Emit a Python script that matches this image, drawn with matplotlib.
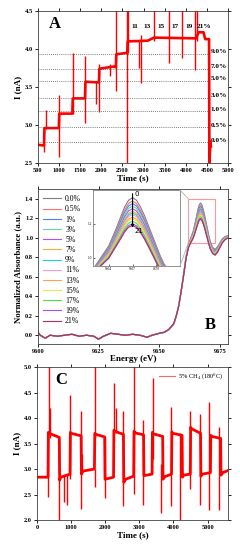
import numpy as np
import matplotlib
matplotlib.use('Agg')
import matplotlib.pyplot as plt
from matplotlib.patches import Rectangle, ConnectionPatch

plt.rcParams['font.family'] = ['Liberation Serif', 'DejaVu Serif']
plt.rcParams['mathtext.fontset'] = 'stix'

# ---------------- panel A : current steps vs O2 concentration ----------------
a_time = [500, 645, 655, 995, 1005, 1315, 1325, 1615, 1625, 1945, 1955, 2300, 2345, 2355,
          2615, 2625, 3100, 3250, 4250, 4300, 4420, 4460, 4552, 4560, 4580, 4595]
a_curr = [2.74, 2.73, 2.96, 2.96, 3.15, 3.15, 3.35, 3.35, 3.57, 3.56, 3.74, 3.77, 3.76, 3.93,
          3.95, 4.10, 4.11, 4.15, 4.14, 4.22, 4.22, 4.13, 4.13, 2.45, 2.78, 2.72]
a_spike_t = [640, 680, 1000, 1320, 1620, 1880, 1950, 2200, 2350, 2600, 2625, 2900, 2950,
             3250, 3600, 3900, 4220, 4270]
a_spike_lo = [2.64, 2.95, 2.58, 3.15, 3.02, 3.28, 3.17, 3.65, 3.45, 2.40, 3.95, 3.75, 3.55,
              4.10, 3.82, 3.88, 3.72, 4.10]
a_spike_hi = [2.76, 3.20, 3.40, 3.95, 3.91, 3.57, 3.80, 3.80, 4.60, 4.60, 4.60, 4.10, 4.18,
              4.60, 4.60, 4.60, 4.60, 4.60]
a_ref_lvl = [3.94, 3.74, 3.58, 3.36, 3.18, 2.97, 2.77]
a_ref_lab = ['9.0%', '7.0%', '5.0%', '3.0%', '1.0%', '0.5%', '0.0%']
a_top_t = [2805, 3080, 3412, 3750, 4075, 4420]
a_top_lab = ['11', '13', '15', '17', '19', '21%']

# ---------------- panel B : XANES spectra ----------------
b_conc = ['0.0%', '0.5%', '1%', '3%', '5%', '7%', '9%', '11%', '13%', '15%', '17%', '19%', '21%']
b_colors = ['#7f7f7f', '#ff6f6f', '#4d7fff', '#66d9a0', '#b34dff', '#f2b233', '#1fd1d1',
            '#ff99cc', '#ff9f5a', '#e6e64d', '#4de04d', '#a64dff', '#b3305a']
e_pre = [9600, 9601, 9603, 9605, 9608, 9611, 9614, 9617, 9620, 9623, 9625, 9627, 9630, 9633,
         9636, 9639, 9642, 9645, 9647, 9650, 9652, 9654, 9656, 9657, 9658, 9659]
mu_pre = [0.03, 0.00, -0.03, 0.00, -0.01, 0.00, 0.01, -0.01, 0.00, -0.01, -0.04, -0.01, 0.02,
          0.01, 0.00, 0.01, 0.00, -0.02, 0.00, 0.02, 0.03, 0.06, 0.12, 0.20, 0.30, 0.45]
e_peak = [9660, 9661, 9662, 9663, 9664, 9665, 9665.5, 9666, 9666.5, 9667, 9667.5, 9668,
          9668.5, 9669, 9669.5, 9670, 9670.5, 9671, 9672, 9673, 9674, 9675, 9676, 9677, 9678]
mu_peak = [
    [0.620, 0.800, 0.930, 1.000, 1.070, 1.180, 1.240, 1.300, 1.340, 1.355, 1.340, 1.300, 1.250, 1.190, 1.130, 1.070, 1.010, 0.960, 0.900, 0.880, 0.910, 0.950, 0.990, 1.010, 1.020],
    [0.619, 0.798, 0.926, 0.994, 1.061, 1.167, 1.224, 1.282, 1.321, 1.335, 1.320, 1.282, 1.233, 1.175, 1.116, 1.058, 1.000, 0.951, 0.892, 0.873, 0.903, 0.944, 0.985, 1.006, 1.017],
    [0.618, 0.797, 0.923, 0.990, 1.054, 1.157, 1.213, 1.269, 1.306, 1.320, 1.306, 1.268, 1.220, 1.163, 1.106, 1.049, 0.992, 0.944, 0.887, 0.867, 0.898, 0.940, 0.981, 1.003, 1.015],
    [0.618, 0.795, 0.920, 0.985, 1.048, 1.148, 1.201, 1.255, 1.292, 1.305, 1.291, 1.254, 1.208, 1.152, 1.096, 1.040, 0.984, 0.937, 0.881, 0.862, 0.893, 0.935, 0.978, 1.000, 1.013],
    [0.617, 0.794, 0.917, 0.981, 1.041, 1.138, 1.189, 1.242, 1.277, 1.290, 1.276, 1.240, 1.195, 1.141, 1.086, 1.031, 0.976, 0.930, 0.875, 0.857, 0.887, 0.931, 0.974, 0.997, 1.010],
    [0.616, 0.792, 0.914, 0.976, 1.034, 1.128, 1.178, 1.228, 1.262, 1.275, 1.262, 1.226, 1.182, 1.129, 1.076, 1.022, 0.968, 0.923, 0.870, 0.851, 0.882, 0.926, 0.970, 0.994, 1.008],
    [0.616, 0.791, 0.912, 0.973, 1.030, 1.122, 1.170, 1.219, 1.253, 1.265, 1.252, 1.217, 1.174, 1.122, 1.069, 1.016, 0.963, 0.919, 0.866, 0.848, 0.879, 0.923, 0.968, 0.992, 1.007],
    [0.615, 0.790, 0.910, 0.970, 1.025, 1.115, 1.162, 1.210, 1.243, 1.255, 1.242, 1.208, 1.165, 1.114, 1.062, 1.010, 0.958, 0.914, 0.862, 0.844, 0.875, 0.920, 0.965, 0.990, 1.005],
    [0.614, 0.789, 0.907, 0.966, 1.018, 1.105, 1.150, 1.197, 1.228, 1.240, 1.227, 1.194, 1.152, 1.103, 1.052, 1.001, 0.950, 0.907, 0.856, 0.839, 0.870, 0.916, 0.961, 0.987, 1.003],
    [0.614, 0.788, 0.905, 0.963, 1.014, 1.099, 1.143, 1.188, 1.219, 1.230, 1.218, 1.185, 1.144, 1.095, 1.045, 0.995, 0.945, 0.903, 0.853, 0.835, 0.866, 0.913, 0.959, 0.985, 1.001],
    [0.613, 0.786, 0.902, 0.958, 1.007, 1.089, 1.131, 1.174, 1.204, 1.215, 1.203, 1.171, 1.131, 1.084, 1.035, 0.986, 0.937, 0.896, 0.847, 0.830, 0.861, 0.908, 0.955, 0.982, 0.999],
    [0.612, 0.785, 0.899, 0.954, 1.000, 1.079, 1.119, 1.161, 1.190, 1.200, 1.188, 1.157, 1.118, 1.072, 1.025, 0.977, 0.929, 0.889, 0.841, 0.824, 0.856, 0.903, 0.951, 0.979, 0.997],
    [0.612, 0.783, 0.897, 0.951, 0.996, 1.073, 1.111, 1.152, 1.180, 1.190, 1.178, 1.148, 1.110, 1.065, 1.018, 0.971, 0.924, 0.884, 0.837, 0.821, 0.852, 0.901, 0.949, 0.977, 0.995],
]

# ---------------- panel C : repeated 5% CH4 pulses ----------------
c_time = [0, 325, 335, 360, 655, 665, 700, 970, 980, 1000, 1295, 1305, 1350, 1685, 1695, 1720,
          1985, 1995, 2245, 2255, 2280, 2535, 2545, 2600, 2835, 2845, 2870, 3125, 3135, 3375,
          3385, 3410, 3685, 3695, 3750, 3945, 3955, 3980, 4255, 4265, 4300, 4495, 4505, 4530,
          4795, 4805, 4850, 5085, 5095, 5120, 5385, 5395, 5450, 5600]
c_curr = [2.84, 2.84, 3.72, 3.70, 3.62, 2.78, 2.84, 2.90, 3.72, 3.70, 3.65, 2.90, 2.96, 3.00,
          3.70, 3.68, 3.63, 2.80, 2.84, 3.76, 3.74, 3.68, 2.74, 2.80, 2.86, 3.74, 3.71, 3.67,
          2.87, 2.90, 3.72, 3.69, 3.64, 2.80, 2.85, 2.90, 3.73, 3.70, 3.66, 2.84, 2.88, 2.90,
          3.82, 3.79, 3.70, 2.86, 2.90, 2.93, 3.66, 3.64, 3.60, 2.88, 2.93, 2.97]
c_spike_t = [330, 345, 380, 660, 800, 870, 980, 1290, 1300, 1330, 1696, 1700, 1990, 2250, 2330,
             2530, 2840, 2845, 3100, 3390, 3650, 3930, 4200, 4500, 4770, 5030, 5330]
c_spike_lo = [2.45, 3.70, 3.60, 2.00, 2.35, 2.30, 2.80, 3.60, 2.22, 2.95, 3.60, 2.65, 2.43, 3.70,
              3.70, 2.27, 3.70, 2.52, 2.30, 3.20, 2.13, 2.28, 2.00, 2.60, 2.30, 2.20, 2.20]
c_spike_hi = [3.70, 5.10, 4.20, 3.60, 2.88, 2.90, 4.45, 4.13, 3.60, 3.30, 5.10, 3.00, 3.60, 4.69,
              4.20, 4.13, 5.10, 3.70, 3.96, 4.78, 3.10, 4.21, 3.70, 4.14, 4.08, 4.31, 3.83]

red = '#ff0000'
fw = 'bold'


def style_axes(ax, fs=4.6):
    ax.tick_params(direction='out', length=2, width=0.6, labelsize=fs, pad=1.5,
                   top=True, right=True)
    for lab in ax.get_xticklabels() + ax.get_yticklabels():
        lab.set_fontweight(fw)
    for s in ax.spines.values():
        s.set_linewidth(0.6)
        s.set_color('#404040')


fig = plt.figure(figsize=(2.4, 5.5), dpi=100)

# ---- A ----
axA = fig.add_axes([0.158, 0.7036, 0.792, 0.2764])
axA.plot(a_time, a_curr, color=red, lw=1.9)
axA.vlines(a_spike_t, a_spike_lo, a_spike_hi, colors=red, lw=1.0)
for lvl, lab in zip(a_ref_lvl, a_ref_lab):
    axA.plot([500, 4540], [lvl, lvl], ls=(0, (1, 1.5)), color='#555555', lw=0.6)
    axA.text(4590, lvl + 0.03, lab, fontsize=5.2, fontweight=fw, va='center', ha='left')
for t, lab in zip(a_top_t, a_top_lab):
    axA.text(t, 4.30, lab, fontsize=5.2, fontweight=fw, ha='center', va='center')
axA.text(900, 4.33, 'A', fontsize=12, fontweight=fw, ha='center', va='center')
axA.set_xlim(500, 5000)
axA.set_ylim(2.5, 4.5)
axA.set_xticks(np.arange(500, 5001, 500))
axA.set_yticks([2.5, 3.0, 3.5, 4.0, 4.5])
axA.set_xlabel('Time (s)', fontsize=6.5, fontweight=fw, labelpad=1)
axA.set_ylabel('I (nA)', fontsize=6.5, fontweight=fw, labelpad=2)
style_axes(axA)

# ---- B ----
axB = fig.add_axes([0.158, 0.3745, 0.792, 0.2819])
for k in range(len(b_conc)):
    axB.plot(e_pre + e_peak, mu_pre + mu_peak[k], color=b_colors[k], lw=0.8, label=b_conc[k])
axB.set_xlim(9600, 9678.3)
axB.set_ylim(-0.09, 1.5)
axB.set_xticks([9600, 9625, 9650, 9675])
axB.set_yticks(np.arange(0, 1.41, 0.2))
axB.set_xlabel('Energy (eV)', fontsize=6.5, fontweight=fw, labelpad=1)
axB.set_ylabel('Normalized Absorbance (a.u.)', fontsize=6.3, fontweight=fw, labelpad=2)
axB.legend(loc='upper left', fontsize=5.6, frameon=False, handlelength=2.4,
           labelspacing=0.28, handletextpad=0.5, borderaxespad=0.2,
           bbox_to_anchor=(0.0, 0.99))
axB.text(9671, 0.1, 'B', fontsize=12, fontweight=fw, ha='center', va='center')
axB.add_patch(Rectangle((9662, 0.95), 11, 0.45, fill=False, ec='#ff9999', lw=0.8))
style_axes(axB)

axI = fig.add_axes([0.3875, 0.5164, 0.3625, 0.138])
for k in range(len(b_conc)):
    axI.plot(e_peak, mu_peak[k], color=b_colors[k], lw=0.8)
axI.set_xlim(9662, 9673)
axI.set_ylim(0.95, 1.40)
axI.set_xticks([9664, 9667, 9670])
axI.set_yticks([1.0, 1.2])
axI.tick_params(direction='in', length=1.5, width=0.4, labelsize=2.5, pad=1)
for s in axI.spines.values():
    s.set_linewidth(0.6)
    s.set_color('#808080')
axI.annotate('', xy=(9667, 1.16), xytext=(9667, 1.395),
             arrowprops=dict(arrowstyle='-|>', color='black', lw=0.8, mutation_scale=4))
axI.text(9667.2, 1.375, '0', fontsize=5, ha='left', va='center', family='DejaVu Sans')
axI.text(9667.2, 1.155, '21', fontsize=5, ha='left', va='center', family='DejaVu Sans')
for ya, yb in [(1, 1.40), (0, 0.95)]:
    con = ConnectionPatch(xyA=(1, ya), coordsA=axI.transAxes, xyB=(9662, yb),
                          coordsB=axB.transData, color='#b0b0b0', lw=0.6)
    fig.add_artist(con)

# ---- C ----
axC = fig.add_axes([0.154, 0.0545, 0.796, 0.2782])
axC.plot(c_time, c_curr, color=red, lw=2.0, label='5% CH$_4$ (180$^0$C)')
axC.vlines(c_spike_t, c_spike_lo, c_spike_hi, colors=red, lw=1.0)
axC.set_xlim(0, 5600)
axC.set_ylim(2.0, 5.0)
axC.set_xticks([0, 1000, 2000, 3000, 4000, 5000])
axC.set_yticks([2.0, 2.5, 3.0, 3.5, 4.0, 4.5, 5.0])
axC.set_xlabel('Time (s)', fontsize=6.5, fontweight=fw, labelpad=1)
axC.set_ylabel('I (nA)', fontsize=6.5, fontweight=fw, labelpad=2)
leg = axC.legend(loc='upper right', fontsize=4.6, frameon=False, handlelength=2.6,
                 borderaxespad=0.3, handletextpad=0.4)
leg.get_lines()[0].set_linewidth(0.8)
leg.get_lines()[0].set_alpha(0.6)
axC.text(700, 4.75, 'C', fontsize=12, fontweight=fw, ha='center', va='center')
style_axes(axC)

fig.savefig('out.png', dpi=100)
